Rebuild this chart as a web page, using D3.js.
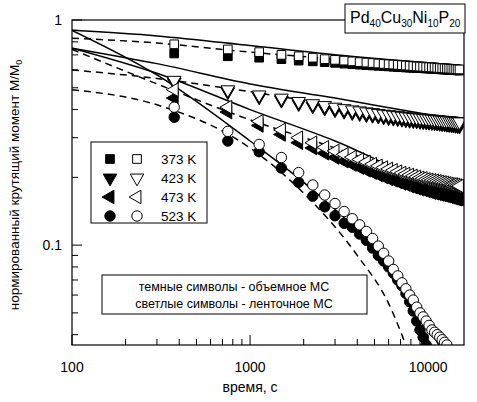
<!DOCTYPE html>
<html><head><meta charset="utf-8">
<script src="https://cdn.jsdelivr.net/npm/d3@7"></script>
<style>body{margin:0;background:#fff}text{font-family:"Liberation Sans",Arial,sans-serif}</style>
</head><body><svg id="c" width="477" height="402"></svg>
<script>
// measurement times, s (every 375 s)
const times = d3.range(1, 41).map(k => k * 375)

const open373 = [.78,.74,.72,.70,.69,.68,.67,.665,.66,.655,.65,.647,.644,.641,.638,.636,.634,.632,.63,.628,.626,.624,.622,.621,.62,.618,.617,.616,.615,.613,.612,.611,.61,.609,.608,.607,.606,.605,.604,.603]
const fill373 = [.71,.69,.68,.67,.66,.655,.65,.645,.64,.636,.633,.63,.628,.626,.624,.622,.62,.618,.617,.615,.614,.613,.612,.611,.61,.609,.608,.607,.606,.605,.604,.603,.602,.601,.60,.60,.599,.598,.597,.596]
const open423 = [.54,.49,.465,.45,.435,.425,.417,.41,.404,.399,.395,.391,.388,.385,.382,.38,.378,.376,.374,.372,.371,.369,.368,.367,.366,.365,.364,.363,.362,.361,.36,.359,.358,.357,.357,.356,.355,.354,.353,.353]
const fill423 = [.53,.48,.455,.44,.425,.415,.406,.399,.393,.388,.384,.38,.377,.374,.371,.368,.366,.364,.362,.36,.358,.357,.356,.354,.353,.352,.351,.35,.349,.348,.347,.346,.345,.344,.343,.342,.341,.34,.339,.338]
const open473 = [.49,.41,.355,.325,.30,.285,.272,.262,.253,.246,.24,.234,.229,.225,.221,.218,.215,.212,.209,.207,.205,.203,.201,.199,.198,.196,.195,.194,.193,.192,.191,.19,.189,.188,.187,.186,.186,.185,.184,.183]
const fill473 = [.45,.39,.34,.31,.285,.27,.256,.245,.236,.228,.221,.215,.21,.205,.201,.197,.194,.191,.188,.186,.183,.181,.179,.177,.176,.174,.173,.171,.17,.169,.168,.167,.166,.165,.164,.163,.162,.161,.16,.16]
const open523 = [.41,.32,.28,.245,.21,.185,.167,.153,.141,.131,.123,.115,.107,.099,.092,.085,.078,.073,.068,.064,.06,.057,.053,.05,.048,.046,.044,.042,.041,.040,.039,.038,.037,.036]
const fill523 = [.37,.29,.26,.22,.19,.165,.148,.135,.125,.12,.112,.105,.097,.09,.085,.08,.075,.07,.066,.061,.056,.051,.046,.042,.039,.036]

// fit curves: [time, value]
const fitT = [100,300,1000,3000,10000,15000]
const solid373 = [.90,.85,.77,.70,.645,.63]
const dash373 = [.83,.79,.72,.67,.62,.61]
const solid423 = [.75,.64,.52,.45,.38,.36]
const dash423 = [.60,.55,.48,.42,.37,.355]
const solid473 = [.75,.58,.40,.29,.19,.17]
const dash473 = [.74,.52,.36,.27,.19,.17]
const fitT523s = [100,300,1000,2000,4000,7000,10000,12000]
const solid523 = [.90,.57,.29,.19,.115,.065,.043,.034]
const fitT523d = [100,300,1000,2000,4000,6000,7600]
const dash523 = [.49,.42,.27,.17,.09,.055,.035]

const legendTemps = ['373 K','423 K','473 K','523 K']

const svg = d3.select('#c')
const L = 72, R = 464, T = 20, B = 345
const x = d3.scaleLog().domain([100, 15900]).range([L, R])
const y = d3.scaleLog().domain([0.036, 1]).range([B, T])

svg.append('clipPath').attr('id', 'cp').append('rect')
  .attr('x', L).attr('y', T).attr('width', R - L).attr('height', B - T)
const g = svg.append('g').attr('clip-path', 'url(#cp)')

const line = d3.line().x(d => x(d[0])).y(d => y(d[1])).curve(d3.curveMonotoneX)
const fits = [
  [fitT, solid373, null], [fitT, dash373, '7,5'],
  [fitT, solid423, null], [fitT, dash423, '7,5'],
  [fitT, solid473, null], [fitT, dash473, '7,5'],
  [fitT523s, solid523, null], [fitT523d, dash523, '7,5']
]
fits.forEach(([tt, vv, dash]) => {
  g.append('path').attr('d', line(tt.map((t, i) => [t, vv[i]])))
    .attr('fill', 'none').attr('stroke', '#000').attr('stroke-width', 1.5)
    .attr('stroke-dasharray', dash)
})

const shapes = {
  sq: d3.symbol().type(d3.symbolSquare).size(75),
  tri: d3.symbol().type(d3.symbolTriangle).size(80),
  circ: d3.symbol().type(d3.symbolCircle).size(85)
}
function marker(sel, kind, filled, cx, cy) {
  let rot = 0, p
  if (kind === 'down') { p = shapes.tri(); rot = 180 }
  else if (kind === 'left') { p = shapes.tri(); rot = -90 }
  else p = shapes[kind]()
  sel.append('path').attr('d', p)
    .attr('transform', `translate(${cx},${cy}) rotate(${rot})`)
    .attr('fill', filled ? '#000' : '#fff').attr('stroke', '#000').attr('stroke-width', 1)
}
const series = [
  [fill373, 'sq', true], [open373, 'sq', false],
  [fill423, 'down', true], [open423, 'down', false],
  [fill473, 'left', true], [open473, 'left', false],
  [fill523, 'circ', true], [open523, 'circ', false]
]
series.forEach(([vals, kind, filled]) => {
  vals.forEach((v, i) => marker(g, kind, filled, x(times[i]), y(v)))
})

// frame and axes
svg.append('rect').attr('x', L).attr('y', T).attr('width', R - L).attr('height', B - T)
  .attr('fill', 'none').attr('stroke', '#000').attr('stroke-width', 1.2)
const xt = [100,200,300,400,500,600,700,800,900,1000,2000,3000,4000,5000,6000,7000,8000,9000,10000]
xt.forEach(t => {
  const major = [100,1000,10000].includes(t)
  svg.append('line').attr('x1', x(t)).attr('x2', x(t)).attr('y1', B).attr('y2', B - (major ? 10 : 6))
    .attr('stroke', '#000')
})
const yt = [0.04,0.05,0.06,0.07,0.08,0.09,0.1,0.2,0.3,0.4,0.5,0.6,0.7,0.8,0.9,1]
yt.forEach(v => {
  const major = v === 0.1 || v === 1
  svg.append('line').attr('x1', L).attr('x2', L + (major ? 10 : 6)).attr('y1', y(v)).attr('y2', y(v))
    .attr('stroke', '#000')
})
;[100,1000,10000].forEach(t => svg.append('text').attr('x', x(t)).attr('y', 372)
  .attr('text-anchor', 'middle').attr('font-size', 14).text(t))
;[[1,'1'],[0.1,'0.1']].forEach(([v, s]) => svg.append('text').attr('x', 62).attr('y', y(v) + 5)
  .attr('text-anchor', 'end').attr('font-size', 14).text(s))
svg.append('text').attr('x', 250).attr('y', 392).attr('text-anchor', 'middle').attr('font-size', 14).text('время, с')
const yl = svg.append('text').attr('transform', 'translate(19,185) rotate(-90)').attr('text-anchor', 'middle')
  .attr('font-size', 13.5)
yl.append('tspan').text('нормированный крутящий момент  M/M')
yl.append('tspan').attr('font-size', 9).attr('baseline-shift', '-30%').text('0')

// title box
svg.append('rect').attr('x', 345).attr('y', 4).attr('width', 120).attr('height', 29).attr('fill', '#fff').attr('stroke', '#000')
const tt = svg.append('text').attr('x', 350).attr('y', 23).attr('font-size', 16)
;[['Pd','40'],['Cu','30'],['Ni','10'],['P','20']].forEach(([el, n]) => {
  tt.append('tspan').text(el)
  tt.append('tspan').attr('font-size', 10).attr('baseline-shift', '-40%').text(n)
})

// legend
svg.append('rect').attr('x', 91).attr('y', 142).attr('width', 116).attr('height', 81).attr('fill', '#fff').attr('stroke', '#000')
const kinds = ['sq','down','left','circ']
legendTemps.forEach((s, i) => {
  const ly = 159 + i * 19
  marker(svg, kinds[i], true, 110, ly)
  marker(svg, kinds[i], false, 137, ly)
  svg.append('text').attr('x', 161).attr('y', ly + 5).attr('font-size', 13.5).text(s)
})
svg.append('rect').attr('x', 102).attr('y', 275).attr('width', 265).attr('height', 39).attr('fill', '#fff').attr('stroke', '#000')
svg.append('text').attr('x', 234).attr('y', 291).attr('text-anchor', 'middle').attr('font-size', 12.5).text('темные символы - объемное МС')
svg.append('text').attr('x', 234).attr('y', 308).attr('text-anchor', 'middle').attr('font-size', 12.5).text('светлые символы - ленточное МС')
</script></body></html>
